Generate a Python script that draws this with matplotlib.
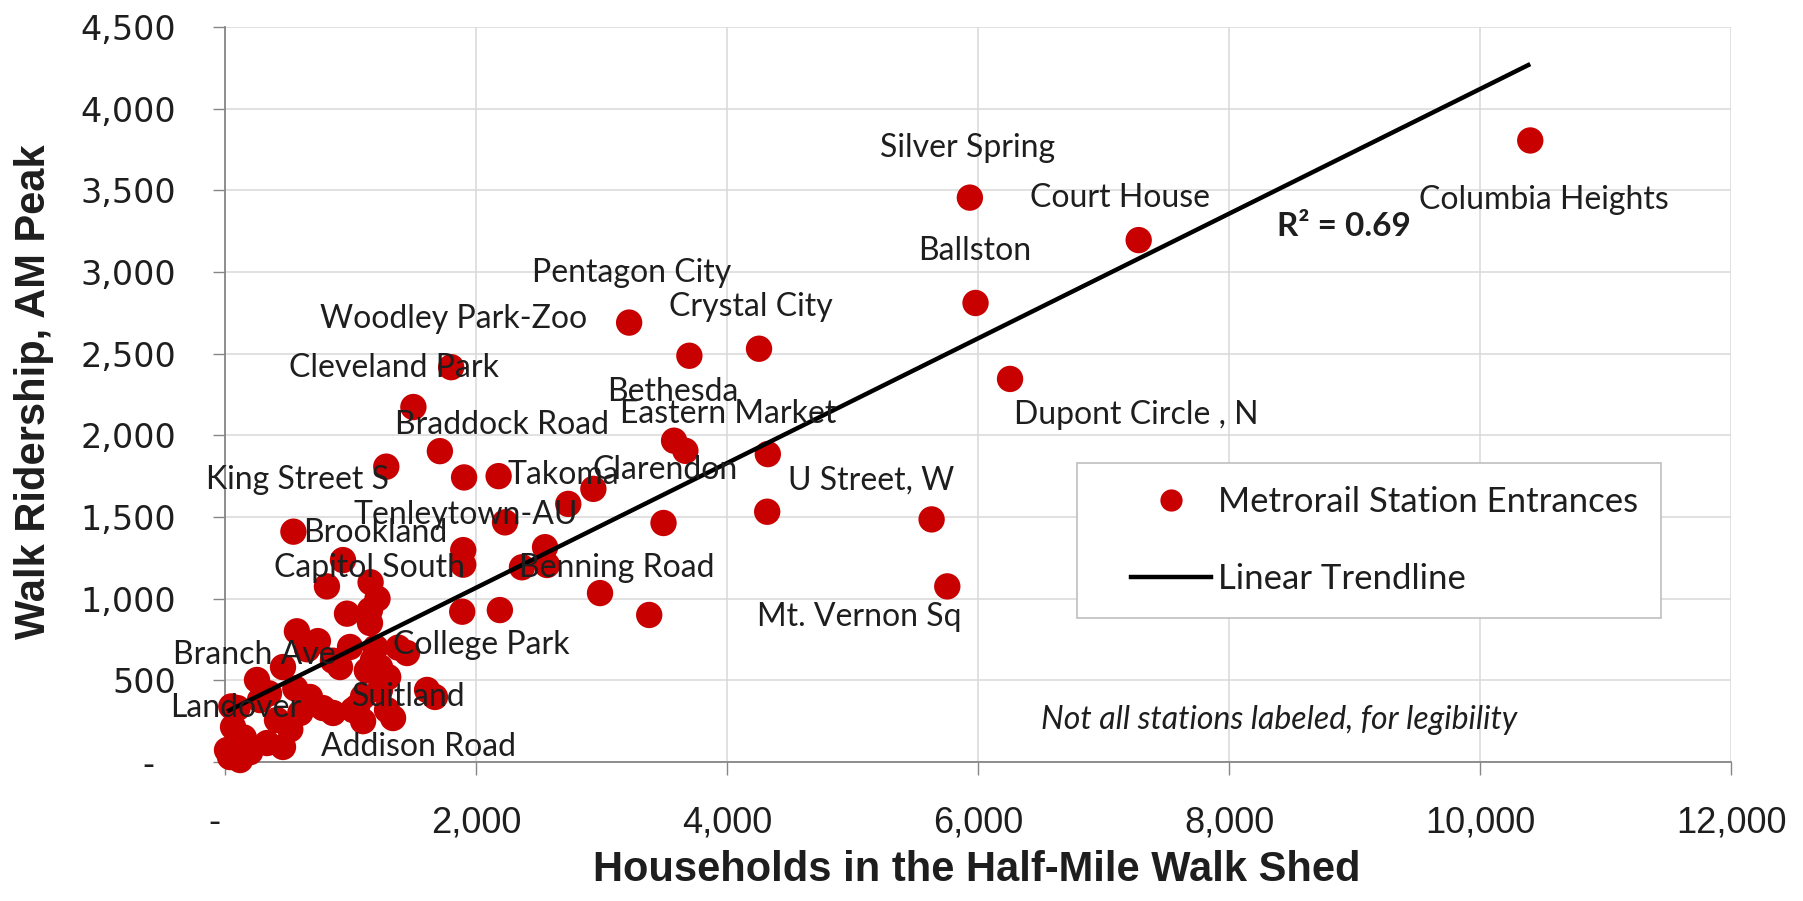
import matplotlib
matplotlib.use('Agg')
import matplotlib.pyplot as plt
from matplotlib.lines import Line2D
from matplotlib.legend_handler import HandlerLine2D
import numpy as np

# households within half mile, walk riders in AM peak
households = [10400, 5935, 7280, 5980, 6255, 5630, 5755, 3220, 3700, 4255,
              1802, 1501, 1712, 1285, 3578, 3668, 4325, 4320, 3494, 2988,
              3380, 1905, 2180, 2735, 2935, 2231, 2550, 2366, 2566, 2190,
              1890, 1898, 1898, 545, 940, 812, 1160, 1215, 1155, 972,
              1155, 573, 655, 462, 255, 50, 64, 16, 120, 335,
              462, 414, 279, 677, 861, 1052, 916, 1179, 996, 1235,
              1291, 1450, 1235, 1673, 1610, 1339, 1100, 1020, 560, 150,
              200, 100, 350, 740, 1130, 860, 1300, 1200, 600, 520,
              780, 1100, 40, 1380]
walk_riders = [3805, 3455, 3195, 2810, 2345, 1485, 1075, 2690, 2487, 2530,
               2417, 2173, 1903, 1808, 1967, 1905, 1885, 1532, 1463, 1034,
               900, 1742, 1750, 1580, 1672, 1467, 1315, 1192, 1206, 930,
               920, 1297, 1208, 1410, 1236, 1075, 1100, 1000, 930, 908,
               851, 800, 690, 581, 502, 340, 214, 73, 12, 116,
               92, 257, 379, 398, 300, 337, 581, 624, 704, 441,
               318, 667, 581, 398, 441, 269, 250, 318, 450, 150,
               60, 330, 420, 740, 560, 620, 520, 700, 300, 200,
               330, 400, 30, 700]

trend_slope = 0.3817
trend_icpt = 303
r_squared = 0.69

station_names = ["Columbia Heights", "Silver Spring", "Court House", "Ballston",
                 "Pentagon City", "Crystal City", "Woodley Park-Zoo", "Cleveland Park",
                 "Bethesda", "Eastern Market", "Dupont Circle , N", "Braddock Road",
                 "King Street S", "Takoma", "Clarendon", "U Street, W",
                 "Tenleytown-AU", "Brookland", "Capitol South", "Benning Road",
                 "Mt. Vernon Sq", "College Park", "Branch Ave", "Landover",
                 "Suitland", "Addison Road"]
# left/centre anchor of each label, data units
label_xy = [(9513, 3443), (5222, 3759), (6415, 3454), (5521, 3126),
            (2447, 2991), (3537, 2786), (758, 2712), (513, 2413),
            (3045, 2268), (3150, 2131), (6290, 2122), (1351, 2061),
            (-151, 1726), (2247, 1756), (2932, 1790), (4488, 1724),
            (1020, 1512), (622, 1401), (390, 1187), (2340, 1190),
            (4239, 887), (1339, 716), (-414, 655), (-438, 330),
            (1012, 398), (765, 92)]

x_ticks = [0, 2000, 4000, 6000, 8000, 10000, 12000]
x_ticklabels = ['-  ', '2,000', '4,000', '6,000', '8,000', '10,000', '12,000']
y_ticks = [0, 500, 1000, 1500, 2000, 2500, 3000, 3500, 4000, 4500]
y_ticklabels = ['-  ', '500', '1,000', '1,500', '2,000', '2,500', '3,000',
                '3,500', '4,000', '4,500']

red = '#C80000'
txt = '#1e1e1e'
narrow = ['Liberation Sans Narrow', 'Liberation Sans', 'DejaVu Sans']

fig = plt.figure(figsize=(18.03, 9.01), dpi=100)
ax = fig.add_axes([0.1248, 0.1543, 0.8353, 0.8158])

ax.scatter(households, walk_riders, s=360, color=red, edgecolors='none',
           zorder=3, clip_on=False)

tx = np.array([min(households), max(households)])
ax.plot(tx, trend_slope * tx + trend_icpt, color='black', lw=3.2, zorder=4,
        solid_capstyle='butt')

for name, (lx, ly) in zip(station_names, label_xy):
    ax.text(lx, ly, name, fontsize=23, family='Lato', color=txt,
            ha='left', va='center', zorder=5, clip_on=False)

ax.text(8379, 3280, 'R² = %.2f' % r_squared, fontsize=24, family='Lato',
        fontweight='bold', color=txt, ha='left', va='center', zorder=5)
ax.text(10295, 257, 'Not all stations labeled, for legibility', fontsize=23,
        family='Lato', style='italic', color=txt, ha='right', va='center', zorder=5)

ax.set_xlim(0, 12000)
ax.set_ylim(0, 4500)
ax.set_xticks(x_ticks)
ax.set_xticklabels(x_ticklabels, family=narrow, fontsize=26)
ax.set_yticks(y_ticks)
ax.set_yticklabels(y_ticklabels, family='DejaVu Sans', fontsize=24)
ax.tick_params(axis='x', length=9, width=1, color='#868686', pad=22, colors=txt)
ax.tick_params(axis='y', length=9, width=1, color='#868686', pad=26, colors=txt)
ax.grid(True, color='#D9D9D9', lw=1.1)
ax.set_axisbelow(True)
for side in ['top', 'right']:
    ax.spines[side].set_visible(False)
for side in ['left', 'bottom']:
    ax.spines[side].set_color('#868686')
    ax.spines[side].set_linewidth(1.3)

fig.text(0.542, 0.0344, 'Households in the Half-Mile Walk Shed', family=narrow,
         fontweight='bold', fontsize=30, color=txt, ha='center', va='center')
fig.text(0.019, 0.565, 'Walk Ridership, AM Peak', family=narrow,
         fontweight='bold', fontsize=30, color=txt, ha='center', va='center',
         rotation=90)

dot_h = Line2D([], [], ls='none', marker='o', markersize=16, color=red,
               markeredgecolor='none')
line_h = Line2D([], [], color='black', lw=3.2)
leg = ax.legend([dot_h, line_h], ['Metrorail Station Entrances', 'Linear Trendline'],
                handler_map={dot_h: HandlerLine2D(xpad=0.87),
                             line_h: HandlerLine2D(xpad=0.87)},
                loc='upper left', bbox_to_anchor=(0.566, 0.407), frameon=True,
                fancybox=False, edgecolor='#BFBFBF', framealpha=1,
                prop={'family': 'Lato', 'size': 25}, borderpad=0.66,
                labelspacing=1.3, handlelength=3.18, handletextpad=0.2,
                borderaxespad=0)
leg.get_frame().set_linewidth(1.2)
for t in leg.get_texts():
    t.set_color(txt)

fig.savefig('out.png', dpi=100)
